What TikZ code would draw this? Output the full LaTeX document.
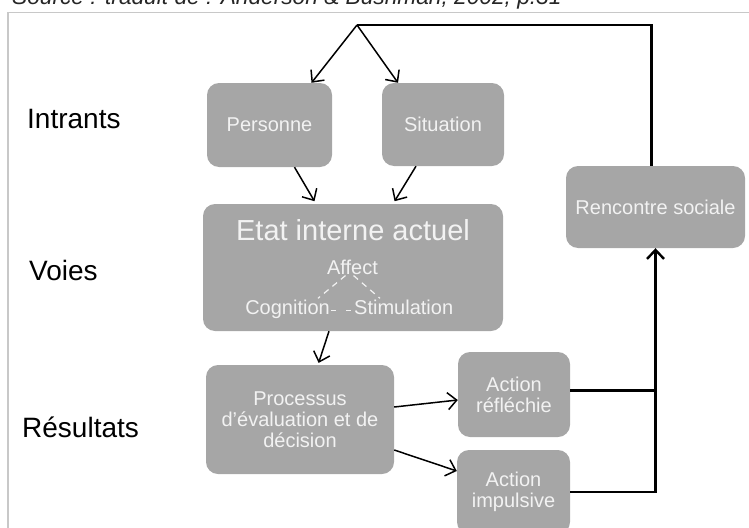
\documentclass[tikz,border=0pt]{standalone}
\usepackage{fontspec}
\setmainfont{Liberation Sans}
\usetikzlibrary{arrows.meta, positioning, calc}
\definecolor{boxgray}{RGB}{166,166,166}
\definecolor{boxtext}{RGB}{242,242,242}
\definecolor{framegray}{RGB}{200,200,200}
\tikzstyle{box} = [rounded corners=12pt, fill=boxgray, text=boxtext, align=center, inner sep=0pt, font=\fontsize{20}{21}\selectfont]
\tikzstyle{arrow} = [line width=1.5pt, -{Straight Barb[length=9pt,width=17pt]}]
\tikzstyle{loopline} = [line width=2.4pt]
\tikzstyle{rowlabel} = [anchor=west, inner sep=0pt, font=\fontsize{28}{30}\selectfont]
\tikzstyle{inner} = [inner sep=1pt, text=boxtext, font=\fontsize{20}{21}\selectfont]
\tikzstyle{dashline} = [boxtext, line width=1.2pt, dash pattern=on 6pt off 5pt]

\begin{document}
\begin{tikzpicture}[x=1pt, y=-1pt]
\useasboundingbox (0,0) rectangle (749,527);
\clip (0,0) rectangle (749,527);
\draw[framegray, line width=1.5pt] (8,540) |- (760,12.5);
\node[anchor=base west, inner sep=0pt, font=\fontsize{22.7}{24}\selectfont\itshape, text=black!85] (source) at (12,5) {Source : traduit de : Anderson \& Bushman, 2002, p.31};

% labels on the left
\node[rowlabel] (intrants) at (27,119) {Intrants};
\node[rowlabel] (voies) at (29,270) {Voies};
\node[rowlabel] (resultats) at (22,427) {Résultats};

% boxes
\node[box, minimum width=125, minimum height=84] (personne) at (269.5,125) {Personne};
\node[box, minimum width=122, minimum height=83] (situation) at (443,124.5) {Situation};
\node[box, minimum width=300, minimum height=127] (etat) at (353,267.5) {};
\node[box, minimum width=188, minimum height=109] (processus) at (300,419.5) {Processus\\d'évaluation et de\\décision};
\node[box, minimum width=112, minimum height=85] (reflechie) at (514,394.5) {Action\\réfléchie};
\node[box, minimum width=113, minimum height=84] (impulsive) at (513.5,492) {Action\\impulsive};
\node[box, minimum width=179, minimum height=82] (rencontre) at (655.5,207) {Rencontre sociale};

% inside the internal state
\node[inner, font=\fontsize{29}{30}\selectfont] (etattitle) at (353,230) {Etat interne actuel};
\node[inner] (affect) at (352.5,267) {Affect};
\node[inner, anchor=base east] (cognition) at (331,314) {Cognition};
\node[inner, anchor=base west] (stimulation) at (353,314) {Stimulation};
\draw[dashline] ([xshift=-7pt]affect.south) -- ([xshift=-13pt]cognition.north east);
\draw[dashline] ([xshift=1pt]affect.south) -- ([xshift=27pt]stimulation.north west);
\draw[dashline, dash pattern=on 5pt off 10pt] ([yshift=1pt]cognition.mid east) -- ([yshift=1pt]stimulation.mid west);

% arrows
\coordinate (apex) at (357,25);
\draw[arrow] (apex) -- ([xshift=42pt]personne.north);
\draw[arrow] (apex) -- ([xshift=-45pt]situation.north);
\draw[arrow, shorten >=3pt] ([xshift=25pt]personne.south) -- ([xshift=-37pt]etat.north);
\draw[arrow, shorten >=3pt] ([xshift=-27pt]situation.south) -- ([xshift=40pt]etat.north);
\draw[arrow, shorten >=2pt] ([xshift=-24pt]etat.south) -- ([xshift=18pt]processus.north);
\draw[arrow] ([yshift=12.5pt]processus.east) -- ([yshift=-5.5pt]reflechie.west);
\draw[arrow] ([yshift=-30.5pt]processus.east) -- ([yshift=21pt]impulsive.west);

% back to the start
\draw[loopline] ([yshift=4pt]reflechie.east) -- ([yshift=4pt]reflechie.east -| rencontre.south);
\draw[loopline, -{Straight Barb[length=9pt,width=17pt]}] (impulsive.east) -| (rencontre.south);
\draw[loopline] ([xshift=-4pt]rencontre.north) |- (apex);
\end{tikzpicture}
\end{document}
